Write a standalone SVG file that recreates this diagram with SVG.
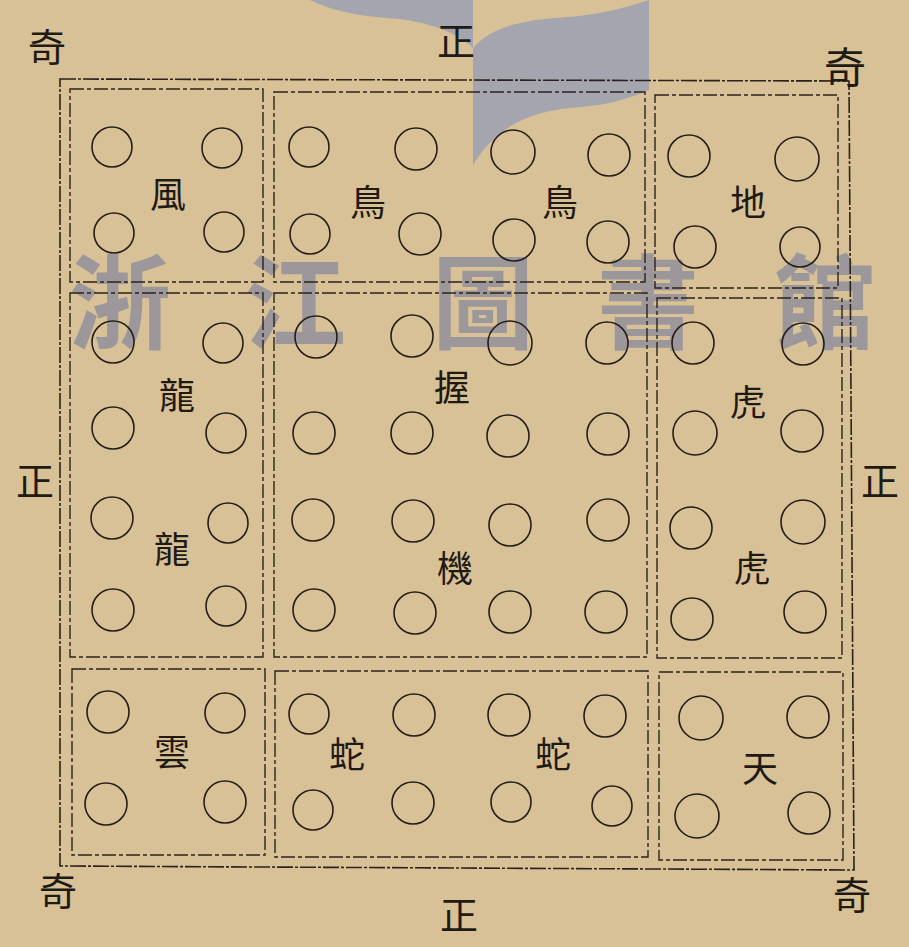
<svg xmlns="http://www.w3.org/2000/svg" width="909" height="947" viewBox="0 0 909 947">
<style>
.paper{fill:#d8c197}
.frame{fill:none;stroke:#2a231b;stroke-width:1.6;stroke-dasharray:16 2 3 2}
.cell{fill:none;stroke:#2a231b;stroke-width:1.4;stroke-dasharray:14 3 4 3}
.c{fill:none;stroke:#241e17;stroke-width:1.6}
.lb{font-family:"Noto Sans CJK TC","Noto Sans CJK SC",serif;font-size:36px;fill:#1f1a14;text-anchor:middle;dominant-baseline:central}
.out{font-family:"Noto Sans CJK TC","Noto Sans CJK SC",serif;font-size:38px;fill:#1f1a14;text-anchor:middle;dominant-baseline:central}
.wm{font-family:"Noto Sans CJK TC","Noto Sans CJK SC",sans-serif;font-size:102px;font-weight:700;fill:#8a8c9c;fill-opacity:0.78;text-anchor:middle;dominant-baseline:central}
.bm{fill:#a4a5ae}
</style>
<rect class="paper" x="0" y="0" width="909" height="947"/>
<g id="bookmark">
<path class="bm" d="M310,0 C330,10 360,17 400,19 C430,23 458,33 473,48 L473,0 Z"/>
<path class="bm" d="M473,48 C490,28 520,20 567,17 C605,14 630,6 649,0 L649,90 C630,98 610,105 580,107 C540,110 500,120 473,165 Z"/>
</g>
<g id="watermark">
<text class="wm" x="120" y="296">浙</text>
<text class="wm" x="295" y="296">江</text>
<text class="wm" x="483" y="296">圖</text>
<text class="wm" x="648" y="296">書</text>
<text class="wm" x="825" y="296">館</text>
</g>
<g id="connectors">
<polygon class="frame" points="60,79 849,81 854,870 60,866"/>
</g>
<g id="cell-feng">
<rect class="cell" x="70" y="89" width="193" height="193"/>
<circle class="c" cx="112" cy="147" r="20"/><circle class="c" cx="222" cy="148" r="20"/>
<circle class="c" cx="114" cy="233" r="20"/><circle class="c" cx="224" cy="232" r="20"/>
<text class="lb" x="168" y="192">風</text>
</g>
<g id="cell-niao">
<rect class="cell" x="274" y="92" width="371" height="190"/>
<circle class="c" cx="309" cy="147" r="20"/><circle class="c" cx="416" cy="149" r="21"/>
<circle class="c" cx="513" cy="152" r="22"/><circle class="c" cx="609" cy="155" r="21"/>
<circle class="c" cx="310" cy="234" r="20"/><circle class="c" cx="420" cy="234" r="21"/>
<circle class="c" cx="514" cy="240" r="21"/><circle class="c" cx="608" cy="242" r="21"/>
<text class="lb" x="368" y="200">鳥</text>
<text class="lb" x="560" y="200">鳥</text>
</g>
<g id="cell-di">
<rect class="cell" x="655" y="95" width="183" height="193"/>
<circle class="c" cx="689" cy="156" r="21"/><circle class="c" cx="797" cy="159" r="22"/>
<circle class="c" cx="695" cy="247" r="21"/><circle class="c" cx="800" cy="247" r="20"/>
<text class="lb" x="748" y="200">地</text>
</g>
<g id="cell-long">
<rect class="cell" x="70" y="293" width="193" height="364"/>
<circle class="c" cx="113" cy="342" r="21"/><circle class="c" cx="223" cy="343" r="20"/>
<circle class="c" cx="113" cy="428" r="21"/><circle class="c" cx="226" cy="433" r="20"/>
<circle class="c" cx="112" cy="518" r="21"/><circle class="c" cx="228" cy="523" r="20"/>
<circle class="c" cx="113" cy="610" r="21"/><circle class="c" cx="226" cy="606" r="20"/>
<text class="lb" x="177" y="393">龍</text>
<text class="lb" x="172" y="547">龍</text>
</g>
<g id="cell-woji">
<rect class="cell" x="274" y="293" width="373" height="364"/>
<circle class="c" cx="316" cy="337" r="21"/><circle class="c" cx="412" cy="336" r="21"/>
<circle class="c" cx="510" cy="343" r="22"/><circle class="c" cx="607" cy="343" r="21"/>
<circle class="c" cx="314" cy="433" r="21"/><circle class="c" cx="412" cy="433" r="21"/>
<circle class="c" cx="508" cy="436" r="21"/><circle class="c" cx="608" cy="434" r="21"/>
<circle class="c" cx="313" cy="520" r="21"/><circle class="c" cx="413" cy="521" r="21"/>
<circle class="c" cx="510" cy="525" r="21"/><circle class="c" cx="608" cy="520" r="21"/>
<circle class="c" cx="314" cy="610" r="21"/><circle class="c" cx="415" cy="613" r="21"/>
<circle class="c" cx="510" cy="612" r="21"/><circle class="c" cx="606" cy="612" r="21"/>
<text class="lb" x="452" y="385">握</text>
<text class="lb" x="455" y="566">機</text>
</g>
<g id="cell-hu">
<rect class="cell" x="657" y="298" width="185" height="360"/>
<circle class="c" cx="693" cy="343" r="21"/><circle class="c" cx="803" cy="344" r="21"/>
<circle class="c" cx="695" cy="433" r="22"/><circle class="c" cx="802" cy="431" r="21"/>
<circle class="c" cx="691" cy="528" r="21"/><circle class="c" cx="803" cy="522" r="22"/>
<circle class="c" cx="692" cy="619" r="21"/><circle class="c" cx="805" cy="612" r="21"/>
<text class="lb" x="748" y="400">虎</text>
<text class="lb" x="752" y="566">虎</text>
</g>
<g id="cell-yun">
<rect class="cell" x="72" y="669" width="193" height="186"/>
<circle class="c" cx="108" cy="712" r="21"/><circle class="c" cx="225" cy="713" r="20"/>
<circle class="c" cx="106" cy="804" r="21"/><circle class="c" cx="225" cy="802" r="21"/>
<text class="lb" x="172" y="750">雲</text>
</g>
<g id="cell-she">
<rect class="cell" x="275" y="671" width="373" height="186"/>
<circle class="c" cx="309" cy="714" r="20"/><circle class="c" cx="414" cy="715" r="21"/>
<circle class="c" cx="509" cy="715" r="21"/><circle class="c" cx="605" cy="716" r="21"/>
<circle class="c" cx="313" cy="810" r="20"/><circle class="c" cx="413" cy="803" r="21"/>
<circle class="c" cx="511" cy="802" r="20"/><circle class="c" cx="612" cy="806" r="20"/>
<text class="lb" x="347" y="752">蛇</text>
<text class="lb" x="553" y="752">蛇</text>
</g>
<g id="cell-tian">
<rect class="cell" x="659" y="672" width="184" height="188"/>
<circle class="c" cx="701" cy="718" r="22"/><circle class="c" cx="808" cy="717" r="21"/>
<circle class="c" cx="697" cy="816" r="22"/><circle class="c" cx="809" cy="813" r="21"/>
<text class="lb" x="760" y="766">天</text>
</g>
<g id="outer-labels">
<text class="out" x="47" y="44">奇</text>
<text class="out" x="456" y="38">正</text>
<text class="out" x="845" y="64" style="font-size:42px">奇</text>
<text class="out" x="35" y="478">正</text>
<text class="out" x="880" y="478">正</text>
<text class="out" x="58" y="888">奇</text>
<text class="out" x="459" y="912">正</text>
<text class="out" x="852" y="892">奇</text>
</g>
</svg>
